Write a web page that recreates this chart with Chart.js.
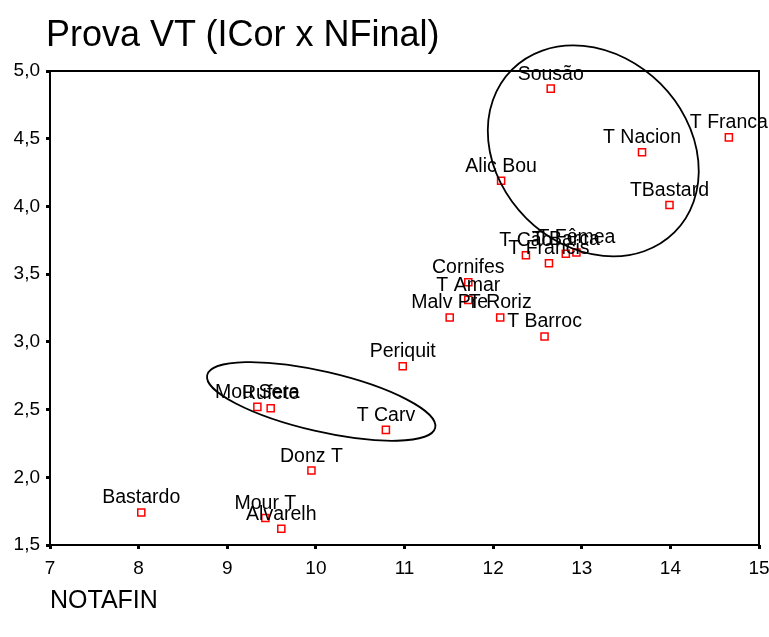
<!DOCTYPE html>
<html>
<head>
<meta charset="utf-8">
<script src="https://cdn.jsdelivr.net/npm/chart.js@4"></script>
<style>
  body { margin: 0; background: #fff; }
  #wrap { position: relative; width: 769px; height: 637px; }
  #title {
    position: absolute; left: 46px; top: 16px;
    font: 36px/36px "Liberation Sans", Arial, sans-serif; color: #000;
  }
</style>
</head>
<body>
<div id="wrap">
  <canvas id="scatter"></canvas>
  <div id="title">Prova VT (ICor x NFinal)</div>
</div>
<script>
// varieties, NOTAFIN (x) and ICor (y)
const names = [
  "Bastardo", "Mour T", "Alvarelh", "Donz T", "T Carv", "Mou Sera", "Rufete",
  "Periquit", "Malv Pre", "Cornifes", "T Amar", "T Roriz", "T Barroc",
  "T Cão", "T Francis", "T Barca", "T Fêmea", "Alic Bou", "Sousão",
  "T Nacion", "TBastard", "T Franca"
];
const notaFin = [
  8.03, 9.43, 9.61, 9.95, 10.79, 9.34, 9.49,
  10.98, 11.51, 11.72, 11.72, 12.08, 12.58,
  12.37, 12.63, 12.82, 12.94, 12.09, 12.65,
  13.68, 13.99, 14.66
];
const iCor = [
  1.74, 1.70, 1.62, 2.05, 2.35, 2.52, 2.51,
  2.82, 3.18, 3.44, 3.31, 3.18, 3.04,
  3.64, 3.58, 3.65, 3.66, 4.19, 4.87,
  4.40, 4.01, 4.51
];

// axis ranges
const xMin = 7, xMax = 15, xStep = 1;
const yMin = 1.5, yMax = 5, yStep = 0.5;

// hand drawn groupings (centre in data units)
const groups = [
  { x: 13.13, y: 4.41, rx: 115, ry: 95, angle: 45 },
  { x: 10.06, y: 2.56, rx: 117, ry: 30, angle: 13 }
];

Chart.defaults.font.family = '"Liberation Sans", Arial, sans-serif';
Chart.defaults.color = "#000";

// box around the plot area
const frame = {
  id: "frame",
  beforeDatasetsDraw(chart) {
    const { ctx, chartArea: a } = chart;
    ctx.save();
    ctx.strokeStyle = "#000";
    ctx.lineWidth = 2;
    ctx.strokeRect(a.left, a.top, a.right - a.left, a.bottom - a.top);
    ctx.restore();
  }
};

// name above each point
const pointLabels = {
  id: "pointLabels",
  afterDatasetsDraw(chart) {
    const ctx = chart.ctx;
    const meta = chart.getDatasetMeta(0);
    ctx.save();
    ctx.font = '19.5px "Liberation Sans", Arial, sans-serif';
    ctx.fillStyle = "#000";
    ctx.textAlign = "center";
    ctx.textBaseline = "alphabetic";
    meta.data.forEach((pt, i) => {
      ctx.fillText(names[i], pt.x, pt.y - 9);
    });
    ctx.restore();
  }
};

// the two ellipses
const ellipses = {
  id: "ellipses",
  afterDraw(chart) {
    const { ctx, scales } = chart;
    ctx.save();
    ctx.strokeStyle = "#000";
    ctx.lineWidth = 1.8;
    groups.forEach((g) => {
      const cx = scales.x.getPixelForValue(g.x);
      const cy = scales.y.getPixelForValue(g.y);
      ctx.beginPath();
      ctx.ellipse(cx, cy, g.rx, g.ry, (g.angle * Math.PI) / 180, 0, Math.PI * 2);
      ctx.stroke();
    });
    ctx.restore();
  }
};

const ctx = document.getElementById("scatter").getContext("2d");
new Chart(ctx, {
  type: "scatter",
  data: {
    datasets: [
      {
        data: notaFin.map((x, i) => ({ x: x, y: iCor[i] })),
        pointStyle: "rect",
        pointRadius: 5,
        pointHoverRadius: 5,
        borderColor: "#ff0000",
        backgroundColor: "#ffffff",
        borderWidth: 1.5
      }
    ]
  },
  options: {
    responsive: true,
    maintainAspectRatio: false,
    animation: false,
    layout: { padding: { top: 71, right: 10, bottom: 23, left: 0 } },
    plugins: {
      legend: { display: false },
      tooltip: { enabled: false }
    },
    scales: {
      x: {
        type: "linear",
        min: xMin,
        max: xMax,
        border: { display: false },
        grid: {
          drawOnChartArea: false,
          tickLength: 4,
          tickWidth: 3,
          tickColor: "#000"
        },
        ticks: { stepSize: xStep, padding: 8, font: { size: 19 }, maxRotation: 0 },
        title: {
          display: true,
          text: "NOTAFIN",
          align: "start",
          font: { size: 25, lineHeight: 1 },
          padding: { top: 0, bottom: 0 }
        },
        afterFit(scale) {
          scale.height = 69;
          scale.paddingLeft = 0;
          scale.paddingRight = 0;
        }
      },
      y: {
        type: "linear",
        min: yMin,
        max: yMax,
        border: { display: false },
        grid: {
          drawOnChartArea: false,
          tickLength: 4,
          tickWidth: 3,
          tickColor: "#000"
        },
        ticks: {
          stepSize: yStep,
          padding: 6,
          font: { size: 19 },
          callback: (v) => v.toFixed(1).replace(".", ",")
        },
        afterFit(scale) {
          scale.width = 50;
        }
      }
    }
  },
  plugins: [frame, pointLabels, ellipses]
});
</script>
</body>
</html>
